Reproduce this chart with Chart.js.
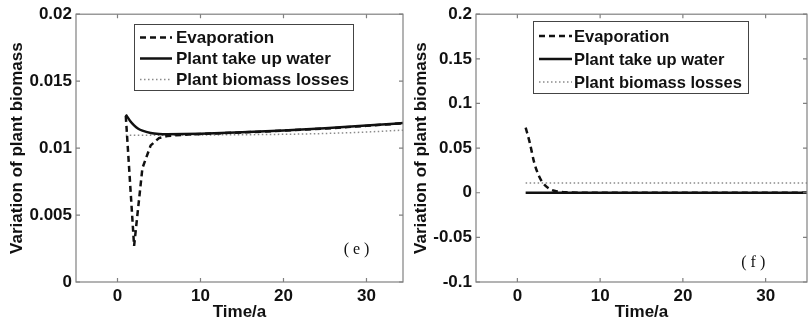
<!DOCTYPE html>
<html>
<head>
<meta charset="utf-8">
<script src="https://cdn.jsdelivr.net/npm/chart.js@4"></script>
<style>
  html, body { margin: 0; padding: 0; background: #ffffff; }
  #wrap { position: relative; width: 808px; height: 325px; }
  canvas { position: absolute; top: 0; }
  #chart-e { left: 0; }
  #chart-f { left: 404px; }
</style>
</head>
<body>
<div id="wrap">
  <canvas id="chart-e" width="404" height="325"></canvas>
  <canvas id="chart-f" width="404" height="325"></canvas>
</div>
<script>
// legend labels
const seriesNames = ["Evaporation", "Plant take up water", "Plant biomass losses"];

// panel (e)
const evapYearsE = [1, 2, 3, 4, 5, 6, 7, 8, 10, 15, 20, 25, 30, 35];
const evapE = [0.0124, 0.0027, 0.0085, 0.0102, 0.01075, 0.0109, 0.01096, 0.011, 0.01106, 0.01117, 0.0113, 0.01146, 0.01166, 0.01188];
const uptakeYearsE = [1, 1.5, 2, 2.5, 3, 4, 5, 6, 8, 10, 15, 20, 25, 30, 35];
const uptakeE = [0.0125, 0.01205, 0.0117, 0.01145, 0.0113, 0.01113, 0.01106, 0.01104, 0.01105, 0.01108, 0.01118, 0.01132, 0.01148, 0.01168, 0.0119];
const lossYearsE = [1, 10, 20, 25, 30, 35];
const lossE = [0.01096, 0.01098, 0.01103, 0.01109, 0.0112, 0.01136];
const yTicksE = [0, 0.005, 0.01, 0.015, 0.02];

// panel (f)
const evapYearsF = [1, 1.5, 2, 2.5, 3, 4, 5, 6, 8, 35];
const evapF = [0.073, 0.056, 0.035, 0.021, 0.012, 0.0037, 0.0012, 0.0004, 0.0001, 0];
const uptakeYearsF = [1, 35];
const uptakeF = [0, 0];
const lossYearsF = [1, 35];
const lossF = [0.011, 0.011];
const yTicksF = [-0.1, -0.05, 0, 0.05, 0.1, 0.15, 0.2];

const xTicks = [0, 10, 20, 30];

const fonte = "'Liberation Sans', Arial, sans-serif";
const corTexto = "#111111";
const corEixo = "#808080";

function pontos(xs, ys) {
  return xs.map((x, i) => ({ x: x, y: ys[i] }));
}

// box + inward ticks on all four sides, like MATLAB
const caixaMatlab = {
  id: "caixaMatlab",
  afterDatasetsDraw(chart) {
    const ctx = chart.ctx;
    const a = chart.chartArea;
    const sx = chart.scales.x;
    const sy = chart.scales.y;
    ctx.save();
    ctx.strokeStyle = corEixo;
    ctx.lineWidth = 1.2;
    ctx.strokeRect(a.left, a.top, a.right - a.left, a.bottom - a.top);
    ctx.beginPath();
    sx.ticks.forEach(t => {
      const px = sx.getPixelForValue(t.value);
      ctx.moveTo(px, a.bottom); ctx.lineTo(px, a.bottom - 4);
      ctx.moveTo(px, a.top); ctx.lineTo(px, a.top + 4);
    });
    sy.ticks.forEach(t => {
      const py = sy.getPixelForValue(t.value);
      ctx.moveTo(a.left, py); ctx.lineTo(a.left + 4, py);
      ctx.moveTo(a.right, py); ctx.lineTo(a.right - 4, py);
    });
    ctx.stroke();
    ctx.restore();
  }
};

const legendaCaixa = {
  id: "legendaCaixa",
  afterDatasetsDraw(chart, args, opts) {
    const ctx = chart.ctx;
    const a = chart.chartArea;
    const x = Math.round(a.left + opts.x);
    const y = Math.round(a.top + opts.y);
    ctx.save();
    ctx.fillStyle = "#ffffff";
    ctx.fillRect(x, y, opts.w, opts.h);
    ctx.strokeStyle = "#444444";
    ctx.lineWidth = 1;
    ctx.strokeRect(x + 0.5, y + 0.5, opts.w, opts.h);
    chart.data.datasets.forEach((ds, i) => {
      const cy = y + opts.primeira + i * opts.passo;
      ctx.beginPath();
      ctx.setLineDash(ds.borderDash || []);
      ctx.strokeStyle = ds.borderColor;
      ctx.lineWidth = ds.borderWidth;
      ctx.moveTo(x + 6, cy);
      ctx.lineTo(x + opts.amostra, cy);
      ctx.stroke();
      ctx.setLineDash([]);
      ctx.fillStyle = corTexto;
      ctx.font = "bold " + opts.tamanho + "px " + fonte;
      ctx.textBaseline = "middle";
      ctx.fillText(ds.label, x + opts.amostra + opts.espaco, cy + 1);
    });
    ctx.restore();
  }
};

const rotuloPainel = {
  id: "rotuloPainel",
  afterDatasetsDraw(chart, args, opts) {
    const ctx = chart.ctx;
    ctx.save();
    ctx.fillStyle = corTexto;
    ctx.font = "16px 'Liberation Serif', 'DejaVu Serif', serif";
    ctx.textAlign = "center";
    ctx.textBaseline = "middle";
    ctx.fillText(opts.texto, chart.scales.x.getPixelForValue(opts.x), chart.scales.y.getPixelForValue(opts.y));
    ctx.restore();
  }
};

function criarDatasets(evX, evY, upX, upY, loX, loY, suaveEvap) {
  return [{
    label: seriesNames[0],
    data: pontos(evX, evY),
    borderColor: "#111111",
    borderWidth: 2.5,
    borderDash: [6, 4],
    pointRadius: 0,
    tension: 0,
    cubicInterpolationMode: suaveEvap ? "monotone" : "default",
    clip: 0
  }, {
    label: seriesNames[1],
    data: pontos(upX, upY),
    borderColor: "#111111",
    borderWidth: 2.5,
    pointRadius: 0,
    cubicInterpolationMode: "monotone",
    clip: 0
  }, {
    label: seriesNames[2],
    data: pontos(loX, loY),
    borderColor: "#8a8a8a",
    borderWidth: 1.5,
    borderDash: [1.5, 2.5],
    pointRadius: 0,
    cubicInterpolationMode: "monotone",
    clip: 0
  }];
}

function criarOptions(cfg) {
  const fonteEixo = { family: fonte, size: 17, weight: "bold" };
  return {
    responsive: false,
    animation: false,
    devicePixelRatio: 1,
    layout: { padding: { left: 0, top: 13, right: 1, bottom: 0 } },
    plugins: {
      legend: { display: false },
      tooltip: { enabled: false },
      legendaCaixa: cfg.legenda,
      rotuloPainel: cfg.rotulo
    },
    scales: {
      x: {
        type: "linear",
        min: -5,
        max: cfg.xMax,
        grid: { display: false, drawTicks: false },
        border: { display: false },
        ticks: {
          font: fonteEixo, color: corTexto, padding: 4,
          maxRotation: 0, autoSkip: false,
          callback: v => String(v)
        },
        afterBuildTicks: s => { s.ticks = xTicks.map(v => ({ value: v })); },
        afterFit: s => { s.height = 43; },
        title: {
          display: true, text: "Time/a", font: fonteEixo, color: corTexto,
          padding: { top: 0, bottom: 2 }
        }
      },
      y: {
        type: "linear",
        min: cfg.yTicks[0],
        max: cfg.yTicks[cfg.yTicks.length - 1],
        grid: { display: false, drawTicks: false },
        border: { display: false },
        ticks: {
          font: fonteEixo, color: corTexto, padding: 4,
          callback: v => String(v)
        },
        afterBuildTicks: s => { s.ticks = cfg.yTicks.map(v => ({ value: v })); },
        afterFit: s => { s.width = cfg.yLargura; },
        title: {
          display: true, text: "Variation of plant biomass", font: fonteEixo, color: corTexto,
          padding: { top: 7, bottom: 0 }
        }
      }
    }
  };
}

const plugins = [caixaMatlab, legendaCaixa, rotuloPainel];

const chartE = new Chart(document.getElementById("chart-e"), {
  type: "line",
  data: { datasets: criarDatasets(evapYearsE, evapE, uptakeYearsE, uptakeE, lossYearsE, lossE, false) },
  options: criarOptions({
    xMax: 34.4,
    yTicks: yTicksE,
    yLargura: 76,
    legenda: { x: 58, y: 10, w: 219, h: 66, primeira: 13.5, passo: 21, amostra: 38, espaco: 4, tamanho: 17 },
    rotulo: { texto: "( e )", x: 28.8, y: 0.0024 }
  }),
  plugins: plugins
});

const chartF = new Chart(document.getElementById("chart-f"), {
  type: "line",
  data: { datasets: criarDatasets(evapYearsF, evapF, uptakeYearsF, uptakeF, lossYearsF, lossF, true) },
  options: criarOptions({
    xMax: 35,
    yTicks: yTicksF,
    yLargura: 72,
    legenda: { x: 57, y: 7, w: 215, h: 72, primeira: 15, passo: 23, amostra: 39, espaco: 2, tamanho: 16.5 },
    rotulo: { texto: "( f )", x: 28.5, y: -0.079 }
  }),
  plugins: plugins
});
</script>
</body>
</html>
